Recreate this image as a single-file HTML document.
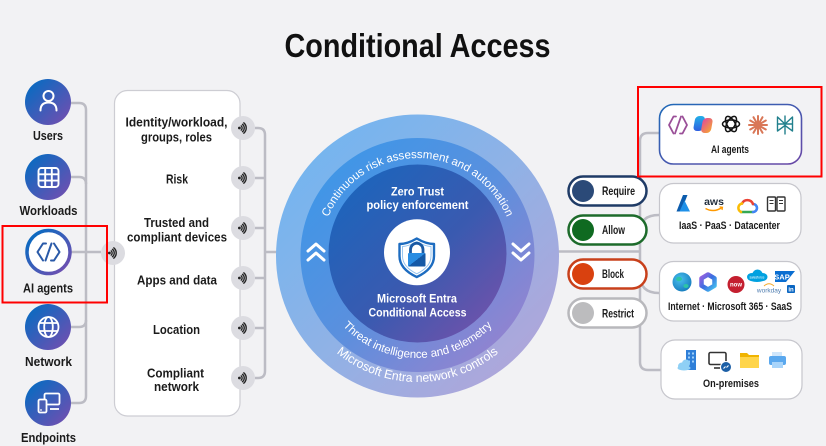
<!DOCTYPE html>
<html><head><meta charset="utf-8">
<style>
html,body{margin:0;padding:0;background:#f2f2f4;}
svg{display:block;}
text{font-family:"Liberation Sans",Arial,sans-serif;}
</style></head>
<body>
<svg width="826" height="446" viewBox="0 0 826 446" xmlns="http://www.w3.org/2000/svg">
<defs>
  <linearGradient id="gIcon" x1="0" y1="0" x2="1" y2="1">
    <stop offset="0.15" stop-color="#0f69c0"/><stop offset="1" stop-color="#7a4caf"/>
  </linearGradient>
  <linearGradient id="gOuter" x1="0" y1="0" x2="1" y2="1">
    <stop offset="0" stop-color="#6cb6f2"/><stop offset="0.5" stop-color="#8fb2e6"/><stop offset="1" stop-color="#b9a2d6"/>
  </linearGradient>
  <linearGradient id="gMid" x1="0" y1="0" x2="1" y2="1">
    <stop offset="0" stop-color="#3798ea"/><stop offset="0.5" stop-color="#5a90de"/><stop offset="1" stop-color="#a47fcb"/>
  </linearGradient>
  <linearGradient id="gInner" x1="0" y1="0" x2="1" y2="1">
    <stop offset="0.05" stop-color="#1966bd"/><stop offset="0.55" stop-color="#3a5ab0"/><stop offset="1" stop-color="#7d50a9"/>
  </linearGradient>
  <linearGradient id="gAIbox" x1="0" y1="0" x2="1" y2="1">
    <stop offset="0" stop-color="#1f6ab8"/><stop offset="1" stop-color="#6a48a6"/>
  </linearGradient>
  <linearGradient id="gLock" x1="0" y1="0" x2="1" y2="1">
    <stop offset="0.5" stop-color="#2a8de2"/><stop offset="0.5" stop-color="#1559a6"/>
  </linearGradient>
  <linearGradient id="gM365" x1="0" y1="0" x2="1" y2="1">
    <stop offset="0" stop-color="#9a5fe0"/><stop offset="0.5" stop-color="#3a6fe0"/><stop offset="1" stop-color="#45c0ee"/>
  </linearGradient>
  <linearGradient id="gCopL" x1="0" y1="0" x2="0" y2="1">
    <stop offset="0" stop-color="#23b0e8"/><stop offset="1" stop-color="#2f5fe0"/>
  </linearGradient>
  <linearGradient id="gCopR" x1="0" y1="0" x2="1" y2="1">
    <stop offset="0" stop-color="#e0489e"/><stop offset="1" stop-color="#f7a830"/>
  </linearGradient>
  <radialGradient id="gGlobe" cx="0.4" cy="0.35" r="0.7">
    <stop offset="0" stop-color="#49c0ee"/><stop offset="1" stop-color="#167bbd"/>
  </radialGradient>
  <symbol id="sig" viewBox="-12 -12 24 24">
    <circle cx="0" cy="0" r="12" fill="#dcdce1"/>
    <circle cx="-3.6" cy="0" r="1.4" fill="#222"/>
    <g fill="none" stroke="#222" stroke-width="1.35" stroke-linecap="round">
      <path d="M -1.8 -2.1 A 2.8 2.8 0 0 1 -1.8 2.1"/>
      <path d="M -0.5 -3.7 A 4.8 4.8 0 0 1 -0.5 3.7"/>
      <path d="M 0.8 -5.2 A 6.8 6.8 0 0 1 0.8 5.2"/>
    </g>
  </symbol>
  <path id="arcTop" d="M 320.5 255 A 97 97 0 0 1 514.5 255"/>
  <path id="arcBot1" d="M 314.5 255 A 103 103 0 0 0 520.5 255"/>
  <path id="arcBot2" d="M 290.5 255 A 127 127 0 0 0 544.5 255"/>
</defs>

<rect width="826" height="446" fill="#f2f2f4"/>

<!-- Title -->
<text x="417.5" y="57" font-size="33" font-weight="bold" fill="#111" text-anchor="middle" textLength="266" lengthAdjust="spacingAndGlyphs">Conditional Access</text>

<!-- Left connectors -->
<g fill="none" stroke="#bcbcc4" stroke-width="2.5">
  <path d="M 71 103 H 79 Q 86 103 86 110 V 396 Q 86 403 79 403 H 71"/>
  <path d="M 71 177 H 79 Q 86 177 86 184"/>
  <path d="M 71 327 H 79 Q 86 327 86 320"/>
  <path d="M 71 252 H 101"/>
</g>

<!-- Left icons -->
<circle cx="48" cy="102" r="23" fill="url(#gIcon)"/>
<g fill="none" stroke="#fff" stroke-width="2" stroke-linecap="round">
  <circle cx="48.5" cy="96" r="5"/>
  <path d="M 40.5 110.5 C 40.5 104.5 44 102.5 48.5 102.5 C 53 102.5 56.5 104.5 56.5 110.5"/>
</g>
<circle cx="48" cy="177" r="23" fill="url(#gIcon)"/>
<g fill="none" stroke="#fff" stroke-width="1.9">
  <rect x="38.5" y="168" width="20" height="19" rx="3"/>
  <path d="M 45.2 168 V 187 M 51.8 168 V 187 M 38.5 174.3 H 58.5 M 38.5 180.6 H 58.5"/>
</g>
<circle cx="48.5" cy="252" r="21.5" fill="#fff" stroke="url(#gIcon)" stroke-width="3.5"/>
<g fill="none" stroke="#2a5aa8" stroke-width="2" stroke-linejoin="round" stroke-linecap="round">
  <path d="M 46 243.5 H 43 L 37.5 252 L 43 260.5"/>
  <path d="M 51 260.5 H 54 L 59.5 252 L 54 243.5"/>
  <path d="M 51.5 243.5 L 45.5 260.5"/>
</g>
<circle cx="48" cy="327" r="23" fill="url(#gIcon)"/>
<g fill="none" stroke="#fff" stroke-width="1.8">
  <circle cx="48.5" cy="327" r="10"/>
  <ellipse cx="48.5" cy="327" rx="4.3" ry="10"/>
  <path d="M 39.5 323 H 57.5 M 39.5 331 H 57.5"/>
</g>
<circle cx="48" cy="403" r="23" fill="url(#gIcon)"/>
<g fill="none" stroke="#fff" stroke-width="1.8" stroke-linejoin="round">
  <rect x="44.5" y="393.5" width="15" height="11" rx="1.5"/>
  <path d="M 50 409 H 59"/>
  <rect x="38.5" y="399.5" width="8" height="13" rx="1.5" fill="#4b5fb4"/>
</g>
<circle cx="41" cy="410" r="0.9" fill="#fff"/>

<!-- Left labels -->
<g font-size="13" font-weight="bold" fill="#1b1b1b" text-anchor="middle">
  <text x="48" y="140" textLength="30" lengthAdjust="spacingAndGlyphs">Users</text>
  <text x="48.5" y="215" textLength="58" lengthAdjust="spacingAndGlyphs">Workloads</text>
  <text x="48" y="292.5" textLength="50" lengthAdjust="spacingAndGlyphs">AI agents</text>
  <text x="48.5" y="366" textLength="47" lengthAdjust="spacingAndGlyphs">Network</text>
  <text x="48.5" y="442" textLength="55" lengthAdjust="spacingAndGlyphs">Endpoints</text>
</g>

<!-- Panel -->
<rect x="114.5" y="90.5" width="125.5" height="325.5" rx="13" fill="#fff" stroke="#cdcdd3" stroke-width="1.2"/>
<g font-size="12.5" font-weight="bold" fill="#1b1b1b" text-anchor="middle">
  <text x="176.5" y="126.5" textLength="102" lengthAdjust="spacingAndGlyphs">Identity/workload,</text>
  <text x="176.5" y="141.5" textLength="71" lengthAdjust="spacingAndGlyphs">groups, roles</text>
  <text x="177" y="183.5" textLength="22" lengthAdjust="spacingAndGlyphs">Risk</text>
  <text x="176.5" y="227" textLength="65" lengthAdjust="spacingAndGlyphs">Trusted and</text>
  <text x="177" y="241.5" textLength="100" lengthAdjust="spacingAndGlyphs">compliant devices</text>
  <text x="177" y="284.5" textLength="80" lengthAdjust="spacingAndGlyphs">Apps and data</text>
  <text x="176.5" y="334" textLength="47" lengthAdjust="spacingAndGlyphs">Location</text>
  <text x="175.5" y="377.5" textLength="57" lengthAdjust="spacingAndGlyphs">Compliant</text>
  <text x="176.5" y="391" textLength="45" lengthAdjust="spacingAndGlyphs">network</text>
</g>

<!-- Panel right connectors -->
<g fill="none" stroke="#bcbcc4" stroke-width="2.5">
  <path d="M 255 128 H 258 Q 265 128 265 135 V 371 Q 265 378 258 378 H 255"/>
  <path d="M 255 178 H 265 M 255 228 H 265 M 255 278 H 265 M 255 328 H 265"/>
  <path d="M 265 252 H 279"/>
</g>

<!-- Signal icons -->
<use href="#sig" x="101" y="241" width="24" height="24"/>
<use href="#sig" x="231" y="116" width="24" height="24"/>
<use href="#sig" x="231" y="166" width="24" height="24"/>
<use href="#sig" x="231" y="216" width="24" height="24"/>
<use href="#sig" x="231" y="266" width="24" height="24"/>
<use href="#sig" x="231" y="316" width="24" height="24"/>
<use href="#sig" x="231" y="366" width="24" height="24"/>

<!-- Right connectors -->
<g fill="none" stroke="#bcbcc4" stroke-width="2.5">
  <path d="M 556 251.5 H 640"/>
  <path d="M 659 133 H 648 Q 640 133 640 141 V 362 Q 640 370 648 370 H 661"/>
  <path d="M 640 232 Q 640 215 659 215"/>
  <path d="M 640 275 Q 640 293 659 293"/>
</g>

<!-- Main circle -->
<circle cx="417.5" cy="256" r="141.5" fill="url(#gOuter)"/>
<circle cx="417.5" cy="255" r="117" fill="url(#gMid)"/>
<circle cx="417.5" cy="253.5" r="89" fill="url(#gInner)"/>

<g fill="#fff" font-size="11.5">
  <text><textPath href="#arcTop" startOffset="50%" text-anchor="middle">Continuous risk assessment and automation</textPath></text>
  <text><textPath href="#arcBot1" startOffset="50%" text-anchor="middle">Threat intelligence and telemetry</textPath></text>
  <text font-size="12.3"><textPath href="#arcBot2" startOffset="50%" text-anchor="middle">Microsoft Entra network controls</textPath></text>
</g>

<g fill="none" stroke="#fff" stroke-width="3" stroke-linecap="round" stroke-linejoin="round">
  <path d="M 308 251 L 316 244 L 324 251 M 308 260 L 316 253 L 324 260"/>
  <path d="M 513 244 L 521 251 L 529 244 M 513 253 L 521 260 L 529 253"/>
</g>

<g font-size="12" font-weight="bold" fill="#fff" text-anchor="middle">
  <text x="417.5" y="195.7" textLength="53" lengthAdjust="spacingAndGlyphs">Zero Trust</text>
  <text x="417.5" y="209" textLength="102" lengthAdjust="spacingAndGlyphs">policy enforcement</text>
  <text x="417" y="302.7" textLength="80" lengthAdjust="spacingAndGlyphs">Microsoft Entra</text>
  <text x="417.5" y="316.7" textLength="98" lengthAdjust="spacingAndGlyphs">Conditional Access</text>
</g>

<!-- Shield -->
<circle cx="417" cy="252.3" r="33" fill="#fff"/>
<path d="M 416.75 238.5 C 410 242.5 404 244 399.5 244 V 256 C 399.5 266 407 272.5 416.75 277 C 426.5 272.5 434 266 434 256 V 244 C 429.5 244 423.5 242.5 416.75 238.5 Z" fill="#fff" stroke="#1d6cc0" stroke-width="2.4" stroke-linejoin="round"/>
<path d="M 416.75 241.5 C 411 245 406 246.3 402.5 246.5 V 256 C 402.5 264.5 409 270 416.75 273.8 C 424.5 270 431 264.5 431 256 V 246.5 C 427.5 246.3 422.5 245 416.75 241.5 Z" fill="none" stroke="#8fc0ee" stroke-width="0.9"/>
<path d="M 410.5 254 V 249.5 A 6.25 6.25 0 0 1 423 249.5 V 254" fill="none" stroke="#1a5aa4" stroke-width="2.8"/>
<rect x="408" y="253" width="17.5" height="13.5" rx="1" fill="url(#gLock)"/>

<!-- Pills -->
<g stroke-width="2.5" fill="#fff">
  <rect x="568.5" y="176.5" width="78" height="29" rx="14.5" stroke="#1f3b66"/>
  <rect x="568.5" y="215.5" width="78" height="29" rx="14.5" stroke="#1d6b2b"/>
  <rect x="568.5" y="259.5" width="78" height="29" rx="14.5" stroke="#c8401b"/>
  <rect x="568.5" y="298.5" width="78" height="29" rx="14.5" stroke="#b8b8bc"/>
</g>
<circle cx="583" cy="191" r="11" fill="#2b4a78"/>
<circle cx="583" cy="230" r="11" fill="#0f6a21"/>
<circle cx="583" cy="274" r="11" fill="#d9410f"/>
<circle cx="583" cy="313" r="11" fill="#bcbcbe"/>
<g font-size="11.5" font-weight="bold" fill="#1b1b1b">
  <text x="602" y="195" textLength="33" lengthAdjust="spacingAndGlyphs">Require</text>
  <text x="602" y="234" textLength="23" lengthAdjust="spacingAndGlyphs">Allow</text>
  <text x="602" y="278" textLength="22" lengthAdjust="spacingAndGlyphs">Block</text>
  <text x="602" y="317.5" textLength="32" lengthAdjust="spacingAndGlyphs">Restrict</text>
</g>

<!-- Right boxes -->
<rect x="659.5" y="104.5" width="142" height="59.5" rx="14" fill="#fff" stroke="url(#gAIbox)" stroke-width="1.6"/>
<rect x="659.5" y="183.5" width="141.5" height="59.5" rx="14" fill="#fff" stroke="#c6c6cc" stroke-width="1.2"/>
<rect x="659.5" y="261.5" width="141.5" height="59.5" rx="14" fill="#fff" stroke="#c6c6cc" stroke-width="1.2"/>
<rect x="661" y="340" width="141" height="59" rx="14" fill="#fff" stroke="#c6c6cc" stroke-width="1.2"/>

<g font-size="11" font-weight="bold" fill="#1b1b1b" text-anchor="middle">
  <text x="730" y="153" textLength="38" lengthAdjust="spacingAndGlyphs">AI agents</text>
  <text x="729.5" y="229" textLength="101" lengthAdjust="spacingAndGlyphs">IaaS · PaaS · Datacenter</text>
  <text x="730" y="310" textLength="124" lengthAdjust="spacingAndGlyphs">Internet · Microsoft 365 · SaaS</text>
  <text x="731" y="387" textLength="56" lengthAdjust="spacingAndGlyphs">On-premises</text>
</g>

<!-- AI agents icons -->
<g fill="none" stroke="#9a4f98" stroke-width="1.8" stroke-linejoin="round" stroke-linecap="round">
  <path d="M 676 116.5 H 673.5 L 669 125 L 673.5 133.5"/>
  <path d="M 680 133.5 H 682.5 L 687 125 L 682.5 116.5"/>
  <path d="M 681 116.5 L 675 133.5"/>
</g>
<rect x="694" y="116" width="10" height="15" rx="4" fill="url(#gCopL)" transform="skewX(-10) translate(22 0)"/>
<rect x="702" y="118" width="10" height="15" rx="4" fill="url(#gCopR)" transform="skewX(-10) translate(22 0)"/>
<g fill="none" stroke="#111" stroke-width="1.5">
  <ellipse cx="731" cy="124" rx="8.5" ry="4"/>
  <ellipse cx="731" cy="124" rx="8.5" ry="4" transform="rotate(60 731 124)"/>
  <ellipse cx="731" cy="124" rx="8.5" ry="4" transform="rotate(120 731 124)"/>
</g>
<g stroke="#d97757" stroke-width="2" stroke-linecap="round">
  <path d="M 749 125 L 767 125 M 750.2 120.5 L 765.8 129.5 M 753.5 117.2 L 762.5 132.8 M 758 116 L 758 134 M 762.5 117.2 L 753.5 132.8 M 765.8 120.5 L 750.2 129.5"/>
</g>
<g fill="none" stroke="#21808d" stroke-width="1.4" stroke-linejoin="round">
  <path d="M 785 115.5 V 134.5"/>
  <path d="M 777.5 117 L 785 124 L 792.5 117 V 124 H 777.5 Z"/>
  <path d="M 777.5 124 V 131 L 785 125.5 M 792.5 124 V 131 L 785 125.5"/>
</g>

<!-- IaaS icons -->
<path d="M 676.5 211.5 L 683 195 L 687.5 195 L 681 211.5 Z" fill="#0c5cad"/>
<path d="M 684.5 200.5 L 690 211.5 L 679.5 211.5 Z" fill="#1e90e8"/>
<text x="714" y="205" font-size="10.5" font-weight="bold" fill="#232f3e" text-anchor="middle">aws</text>
<path d="M 705.5 208.5 Q 714 213 722 207.5" fill="none" stroke="#f90" stroke-width="1.5"/>
<path d="M 719.5 206.8 L 722.5 207.2 L 722 210" fill="none" stroke="#f90" stroke-width="1.2"/>
<g fill="none" stroke-width="2.6" stroke-linecap="round">
  <path d="M 741 212 H 753" stroke="#34a853"/>
  <path d="M 753 212 A 4 4 0 0 0 753 204" stroke="#4285f4"/>
  <path d="M 753 204 A 6 6 0 0 0 742 203.5" stroke="#ea4335"/>
  <path d="M 742 203.5 A 4.5 4.5 0 0 0 741 212" stroke="#fbbc05"/>
</g>
<g fill="#fff" stroke="#333" stroke-width="1.4">
  <rect x="767.5" y="197" width="8" height="14" rx="1"/>
  <rect x="777" y="197" width="8" height="14" rx="1"/>
  <path d="M 769.5 200.5 H 773.5 M 769.5 203.5 H 773.5 M 779 200.5 H 783 M 779 203.5 H 783" stroke-width="1.1"/>
</g>

<!-- Internet icons -->
<circle cx="682" cy="282" r="9.5" fill="url(#gGlobe)"/>
<ellipse cx="679" cy="279" rx="3" ry="2.2" fill="#2ec4a6"/>
<ellipse cx="686" cy="286" rx="2.6" ry="2" fill="#2ec4a6"/>
<path d="M 708 274.5 L 714.5 278.3 L 714.5 285.7 L 708 289.5 L 701.5 285.7 L 701.5 278.3 Z" fill="none" stroke="url(#gM365)" stroke-width="4.5" stroke-linejoin="round"/>
<circle cx="736" cy="284.5" r="8.5" fill="#c41f2f"/>
<text x="736" y="286.5" font-size="6" font-weight="bold" fill="#fff" text-anchor="middle">now</text>
<g fill="#00a1e0">
  <ellipse cx="752" cy="277" rx="5" ry="4"/>
  <ellipse cx="757.5" cy="274" rx="5" ry="4.5"/>
  <ellipse cx="762.5" cy="277" rx="5" ry="4"/>
  <ellipse cx="757" cy="279" rx="8" ry="3"/>
</g>
<text x="757" y="278.5" font-size="3.3" fill="#fff" text-anchor="middle">salesforce</text>
<path d="M 775 271 H 795 L 786 282 H 775 Z" fill="#0a6ed1"/>
<text x="782" y="279.5" font-size="7.5" font-weight="bold" fill="#fff" text-anchor="middle">SAP</text>
<path d="M 764 286 Q 769 281.5 774 286" fill="none" stroke="#f5a623" stroke-width="1"/>
<text x="769" y="292.5" font-size="6.5" fill="#4f7db0" text-anchor="middle">workday</text>
<rect x="787" y="285" width="8" height="8" rx="1" fill="#0a66c2"/>
<text x="791" y="291.5" font-size="6" font-weight="bold" fill="#fff" text-anchor="middle">in</text>

<!-- On-prem icons -->
<rect x="686" y="350" width="10" height="20" fill="#2f7fd8"/>
<g fill="#9fd0fa">
  <rect x="688" y="352.5" width="2" height="2"/><rect x="692" y="352.5" width="2" height="2"/>
  <rect x="688" y="356.5" width="2" height="2"/><rect x="692" y="356.5" width="2" height="2"/>
  <rect x="688" y="360.5" width="2" height="2"/><rect x="692" y="360.5" width="2" height="2"/>
</g>
<g fill="#8fd0f5">
  <ellipse cx="682" cy="366" rx="4" ry="3.5"/>
  <ellipse cx="686" cy="363.5" rx="4" ry="4"/>
  <ellipse cx="684" cy="368" rx="6.5" ry="2.5"/>
</g>
<rect x="709" y="352.5" width="17" height="12" rx="1.5" fill="#fff" stroke="#333" stroke-width="1.6"/>
<path d="M 714 368 H 720" stroke="#333" stroke-width="1.6"/>
<circle cx="726" cy="367" r="5.5" fill="#1c5fa6" stroke="#fff" stroke-width="1"/>
<path d="M 723.5 368.5 L 725.5 366.5 M 726.5 367.5 L 728.5 365.5" stroke="#fff" stroke-width="1.1"/>
<path d="M 740 353 H 747 L 749 355 H 759 V 368 H 740 Z" fill="#f0b400"/>
<rect x="740" y="357" width="19" height="11" fill="#ffd54a"/>
<rect x="772" y="352" width="10" height="5" fill="#cfe6fb"/>
<rect x="769" y="356" width="17" height="9" rx="2" fill="#5aa8ee"/>
<rect x="772" y="362" width="11" height="6" fill="#a8d4fa"/>

<!-- Red highlight boxes -->
<rect x="2.5" y="226" width="104.5" height="76.5" fill="none" stroke="#f00" stroke-width="2"/>
<rect x="638" y="87" width="183.5" height="89.5" fill="none" stroke="#f00" stroke-width="2"/>
</svg>
</body></html>
